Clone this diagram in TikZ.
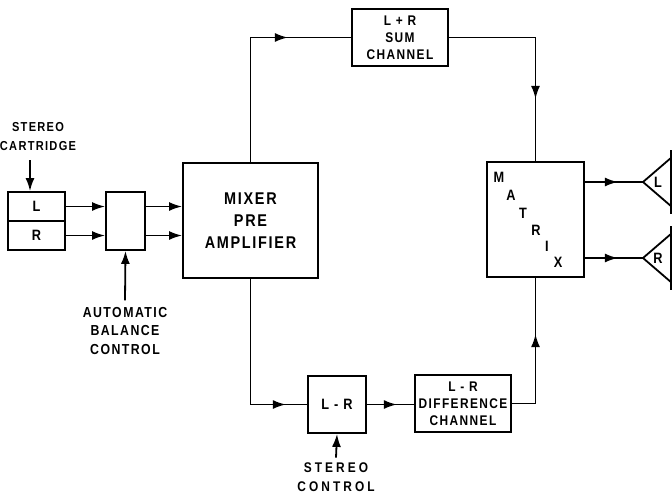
\documentclass[tikz,border=0pt]{standalone}
\usepackage{fontspec}
\setmainfont{Liberation Sans}[FakeStretch=0.85, LetterSpace=10, UprightFont=*-Bold]
\newfontfamily\widefont{Liberation Sans}[FakeStretch=0.85, LetterSpace=22, UprightFont=*-Bold]
\usetikzlibrary{arrows.meta,decorations.markings}
\begin{document}
\begin{tikzpicture}[x=1pt,y=-1pt,line width=1.8pt,
  blk/.style={draw,rectangle,inner sep=0pt,align=center},
  lbl/.style={align=center,inner sep=0pt},
  arr/.style={-{Latex[length=13pt,width=9pt]}},
  midarrow/.style={postaction={decorate},decoration={markings,mark=at position #1 with {\arrow{Latex[length=13pt,width=9pt]}}}}]
\useasboundingbox (0,0) rectangle (672,496);
% blocks
\node[blk,minimum width=57pt,minimum height=29pt,font=\fontsize{15}{16}\selectfont] (cartL) at (36.5,206.5) {L};
\node[blk,minimum width=57pt,minimum height=29pt,font=\fontsize{15}{16}\selectfont] (cartR) at (36.5,235.5) {R};
\node[blk,minimum width=39pt,minimum height=58pt] (bal) at (125.5,221) {};
\node[blk,minimum width=135pt,minimum height=115pt,font=\fontsize{17}{22}\selectfont] (mix) at (250.5,220.5) {MIXER\\PRE\\AMPLIFIER};
\node[blk,minimum width=96pt,minimum height=57pt,font=\fontsize{14}{17}\selectfont] (sum) at (400,37.5) {L + R\\SUM\\CHANNEL};
\node[blk,minimum width=97pt,minimum height=115pt] (mat) at (535.5,219.5) {};
\node[blk,minimum width=58pt,minimum height=57pt,font=\fontsize{15}{16}\selectfont] (lr) at (337,404.5) {L - R};
\node[blk,minimum width=96pt,minimum height=57pt,font=\fontsize{14}{17}\selectfont] (diff) at (463,403.5) {L - R\\DIFFERENCE\\CHANNEL};
% matrix letters
\begin{scope}[every node/.style={lbl,font=\fontsize{15}{15}\selectfont}]
\node (mM) at (499,177) {M};
\node (mA) at (511,195) {A};
\node (mT) at (523,213) {T};
\node (mR) at (536,230) {R};
\node (mI) at (547,246) {I};
\node (mX) at (558,262) {X};
\end{scope}
% labels
\node[lbl,font=\fontsize{13}{19}\selectfont] (tcart) at (38,137) {STEREO\\CARTRIDGE};
\node[lbl,font=\fontsize{14.5}{18.5}\selectfont] (tabc) at (125,331) {AUTOMATIC\\BALANCE\\CONTROL};
\node[lbl,font=\widefont\fontsize{14}{19}\selectfont] (tsc) at (336,477) {STEREO\\CONTROL};
% speakers
\coordinate (spkL) at (643,182);
\coordinate (spkR) at (643,258);
\draw (spkL) -- ++(36,-31) (spkL) -- ++(36,31);
\draw (spkR) -- ++(36,-31) (spkR) -- ++(36,31);
\draw (671,150) -- (671,214) (671,226) -- (671,290);
\node[lbl,font=\fontsize{15}{16}\selectfont] (tL) at (658,182) {L};
\node[lbl,font=\fontsize{15}{16}\selectfont] (tR) at (658,258) {R};
% connectors
\coordinate (cartin) at (30,160);
\draw[arr] (cartin) -- (cartin |- cartL.north);
\draw[arr] (cartL.east) -- (cartL.east -| bal.west);
\draw[arr] (cartR.east) -- (cartR.east -| bal.west);
\draw[arr] (cartL.east -| bal.east) -- (cartL.east -| mix.west);
\draw[arr] (cartR.east -| bal.east) -- (cartR.east -| mix.west);
\draw[arr] (tabc.north) ++(0,-6) -- (bal.south);
\draw[midarrow=162pt] (mix.north) |- (sum.west);
\draw[midarrow=148pt] (sum.east) -| (mat.north);
\draw[midarrow=161pt] (mix.south) |- (lr.west);
\draw[midarrow=30pt] (lr.east) -- (lr.east -| diff.west);
\draw[arr] (tsc.north) ++(0,-4) -- (lr.south);
\draw[midarrow=93pt] (diff.east) -| (mat.south);
\draw[midarrow=33pt] (spkL -| mat.east) -- (spkL);
\draw[midarrow=33pt] (spkR -| mat.east) -- (spkR);
\end{tikzpicture}
\end{document}
